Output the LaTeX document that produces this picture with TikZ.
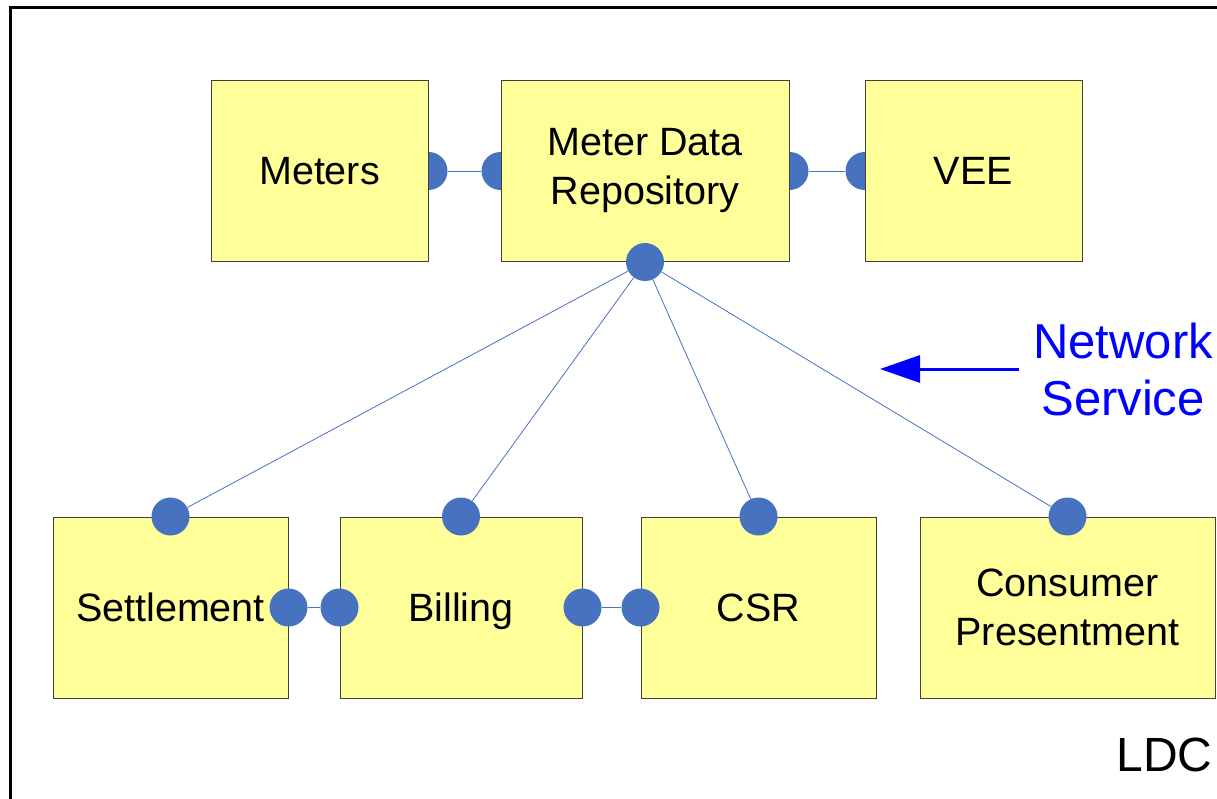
\documentclass[tikz,border=0pt]{standalone}
\usepackage{fontspec}
\setmainfont{Liberation Sans}
\usetikzlibrary{arrows.meta,backgrounds}
\definecolor{boxyellow}{RGB}{255,255,153}
\definecolor{dotblue}{RGB}{70,114,192}

\begin{document}
\begin{tikzpicture}[x=1pt,y=-1pt,
  box/.style={draw=black!75,line width=1pt,fill=boxyellow,minimum width=#1,
    minimum height=181pt,inner sep=0pt,align=center,
    font=\fontsize{39.5}{49}\selectfont},
  dot/.style={circle,fill=dotblue,minimum size=38pt,inner sep=0pt},
  link/.style={draw=dotblue,line width=0.8pt}]
\useasboundingbox (0,0) rectangle (1217,799);
\begin{scope}
\clip (0,0) rectangle (1217,799);
\draw[line width=3pt] (10,8) rectangle (1240,830);
\end{scope}
% top row
\node[box=217pt] (met) at (319.5,171) {Meters};
\node[box=288pt] (mdr) at (645,171) {Meter Data\\Repository};
\node[box=217pt] (vee) at (973.5,171) {VEE};
% bottom row
\node[box=235pt] (set) at (170.5,607.5) {Settlement};
\node[box=242pt,text depth=0pt] (bil) at (461,607.5) {Billing};
\node[box=235pt] (csr) at (758.5,607.5) {CSR};
\node[box=295pt] (cp) at (1067.5,607.5) {Consumer\\Presentment};
% half hidden ports of the top row
\begin{scope}[on background layer]
\node[dot] (met-r) at (met.east) {};
\node[dot] (mdr-l) at (mdr.west) {};
\node[dot] (mdr-r) at (mdr.east) {};
\node[dot] (vee-l) at (vee.west) {};
\path[link] (met-r) edge (mdr-l) (mdr-r) edge (vee-l);
\end{scope}
\node[dot] (mdr-b) at (mdr.south) {};
\node[dot] (set-t) at (set.north) {};
\node[dot] (bil-t) at (bil.north) {};
\node[dot] (csr-t) at (csr.north) {};
\node[dot] (cp-t) at (cp.north) {};
\node[dot] (set-r) at (set.east) {};
\node[dot] (bil-l) at (bil.west) {};
\node[dot] (bil-r) at (bil.east) {};
\node[dot] (csr-l) at (csr.west) {};
\path[link] (mdr-b) edge (set-t) (mdr-b) edge (bil-t)
  (mdr-b) edge (csr-t) (mdr-b) edge (cp-t);
\path[link] (set-r) edge (bil-l) (bil-r) edge (csr-l);
% network service
\node[text=blue,align=center,inner sep=14pt,
  font=\fontsize{49}{57}\selectfont] (ns) at (1123,369) {Network\\Service};
\coordinate (ns-tip) at (880,369);
\draw[blue,line width=3pt,-{Triangle[length=40pt,width=27pt]}] (ns.west) -- (ns-tip);
\node[font=\fontsize{48}{57}\selectfont,anchor=base east] (ldc) at (1216,771) {LDC};
\end{tikzpicture}
\end{document}
